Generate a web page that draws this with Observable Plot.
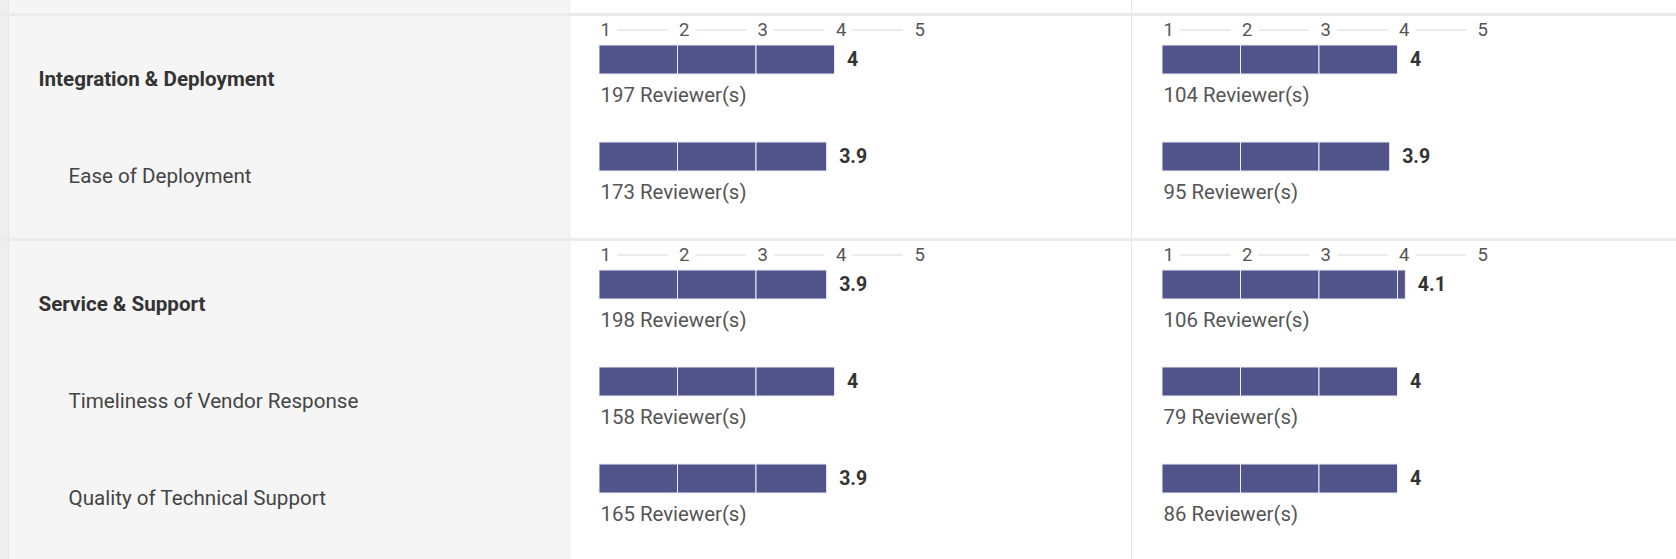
<!DOCTYPE html>
<html><head><meta charset="utf-8">
<script src="https://cdn.jsdelivr.net/npm/d3@7"></script>
<script src="https://cdn.jsdelivr.net/npm/@observablehq/plot@0.6"></script>
<style>
html,body{margin:0;padding:0;background:#fff;overflow:hidden;}
#root{position:relative;width:1676px;height:559px;font-family:Roboto, sans-serif;}
.abs{position:absolute;}
</style></head><body><div id="root"></div>
<script>
// ---- data ----
const sectionNames = ["Integration & Deployment", "Service & Support"];
const rowLabels = ["Integration & Deployment", "Ease of Deployment", "Service & Support", "Timeliness of Vendor Response", "Quality of Technical Support"];
const rowSection = [0, 0, 1, 1, 1];
const ratingsA = [4, 3.9, 3.9, 4, 3.9];
const reviewersA = [197, 173, 198, 158, 165];
const ratingsB = [4, 3.9, 4.1, 4, 4];
const reviewersB = [104, 95, 106, 79, 86];
const tickValues = [1, 2, 3, 4, 5];

// ---- layout (style) ----
const W = 1676, H = 559;
const sectionTop = [14, 239];
const sectionBottom = [239, 559];
const leftW = 570;
const cols = [
  {left: 570, width: 562, x0: 29, ratings: ratingsA, reviewers: reviewersA},
  {left: 1132, width: 544, x0: 30, ratings: ratingsB, reviewers: reviewersB}
];
const unit = 78.5, step = 97, barH = 29, topPad = 31;
const barColor = "#50548a";

const root = document.getElementById("root");
function box(css) { const d = document.createElement("div"); d.className = "abs"; Object.assign(d.style, css); root.appendChild(d); return d; }

// backgrounds & borders
box({left: "0px", top: "0px", width: leftW + "px", height: H + "px", background: "#f5f5f5"});
box({left: "0px", top: "0px", width: "8px", height: H + "px", background: "#eeeeee", borderRight: "1px solid #e6e6e6"});
box({left: (leftW - 1) + "px", top: "0px", width: "1px", height: H + "px", background: "#ececec"});
box({left: "1131px", top: "0px", width: "1px", height: H + "px", background: "#e6e6e6"});
sectionTop.forEach(t => box({left: "0px", top: (t - 1) + "px", width: W + "px", height: "3px", background: "#ebebeb"}));

const svgStyle = {fontFamily: "Roboto, sans-serif", background: "transparent", overflow: "visible"};

sectionNames.forEach((sec, s) => {
  const idx = rowLabels.map((_, i) => i).filter(i => rowSection[i] === s);
  const domain = idx.map(i => rowLabels[i]);
  const n = domain.length;
  const h = sectionBottom[s] - sectionTop[s];
  const contentEnd = topPad + step * (n - 1) + barH;
  const yScale = {type: "band", domain, paddingInner: (step - barH) / step, paddingOuter: 0, align: 0};

  // left label column
  const labels = idx.map(i => ({row: rowLabels[i], head: i === idx[0]}));
  const leftPlot = Plot.plot({
    width: leftW, height: h, marginTop: topPad, marginBottom: h - contentEnd, marginLeft: 0, marginRight: 0,
    style: svgStyle,
    x: {axis: null}, y: {...yScale, axis: null},
    marks: [
      Plot.text(labels.filter(d => d.head), {y: "row", text: "row", frameAnchor: "left", textAnchor: "start", dx: 38, dy: 19, fontSize: 20.6, fontWeight: "bold", fill: "#333"}),
      Plot.text(labels.filter(d => !d.head), {y: "row", text: "row", frameAnchor: "left", textAnchor: "start", dx: 68, dy: 19, fontSize: 20.6, fill: "#444"})
    ]
  });
  const lw = box({left: "0px", top: sectionTop[s] + "px"}); lw.appendChild(leftPlot);

  cols.forEach(c => {
    const rows = idx.map(i => ({row: rowLabels[i], value: c.ratings[i], n: c.reviewers[i]}));
    const segs = [];
    rows.forEach(r => {
      for (let a = 1; a < r.value; a++) segs.push({row: r.row, x1: a, x2: Math.min(a + 1, r.value)});
    });
    const pairs = tickValues.slice(0, -1).map((t, k) => ({a: t, b: tickValues[k + 1]}));
    const p = Plot.plot({
      width: c.width, height: h, marginTop: topPad, marginBottom: h - contentEnd, marginLeft: 0, marginRight: 0,
      style: svgStyle,
      x: {domain: [1, 5], range: [c.x0, c.x0 + unit * 4], axis: null},
      y: {...yScale, axis: null},
      marks: [
        Plot.ruleY(pairs, {x1: "a", x2: "b", y: () => domain[0], dy: -30, insetLeft: 18, insetRight: 10, stroke: "#d6d8e4", strokeWidth: 1}),
        Plot.text(tickValues, {x: d => d, y: () => domain[0], dy: -30, dx: 1, textAnchor: "start", fontSize: 18.5, fill: "#555"}),
        Plot.barX(segs, {x1: "x1", x2: "x2", y: "row", fill: barColor, stroke: "#eceef5", strokeWidth: 1}),
        Plot.text(rows, {x: "value", y: "row", text: d => String(d.value), dx: 12, textAnchor: "start", fontSize: 19.5, fontWeight: "bold", fill: "#333"}),
        Plot.text(rows, {x: () => 1, y: "row", text: d => `${d.n} Reviewer(s)`, dx: 1, dy: 35, textAnchor: "start", fontSize: 20.4, fill: "#555"})
      ]
    });
    const w = box({left: c.left + "px", top: sectionTop[s] + "px"}); w.appendChild(p);
  });
});
</script>
</body></html>
